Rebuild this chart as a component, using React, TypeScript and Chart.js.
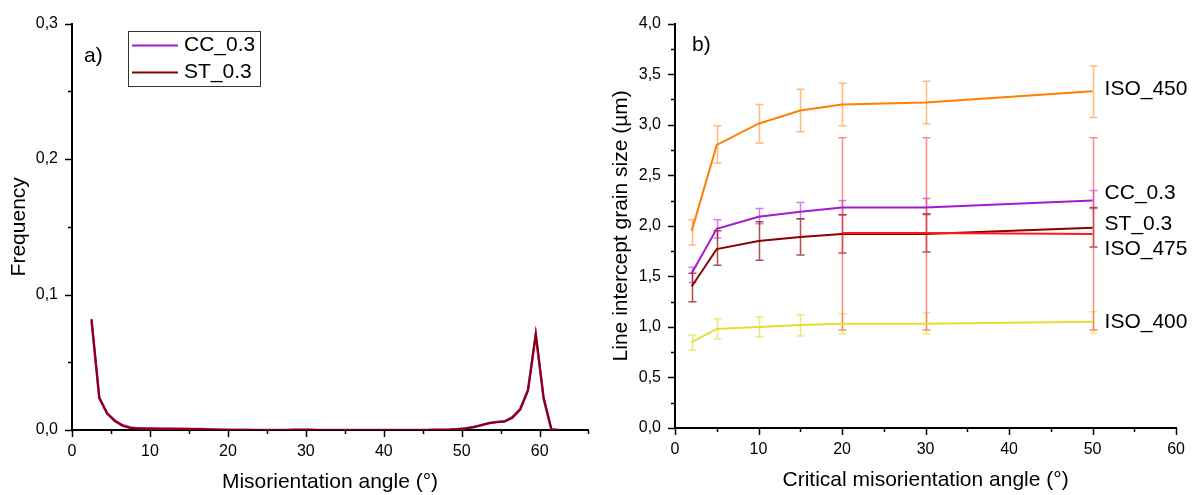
import React, { useEffect, useRef } from 'react';
import { Chart, registerables } from 'chart.js';
Chart.register(...registerables);

const FONT_FAMILY = "'Liberation Sans', Arial, sans-serif";

// ---------------- Panel a) data ----------------
const misorientationAngles = [
  2.5, 3.5, 4.5, 5.5, 6.5, 7.5, 8.5, 9.5, 10.5, 11.5, 12.5, 13.5, 14.5, 15.5, 16.5, 17.5, 18.5, 19.5,
  20.5, 21.5, 22.5, 23.5, 24.5, 25.5, 26.5, 27.5, 28.5, 29.5, 30.5, 31.5, 32.5, 33.5, 34.5, 35.5, 36.5, 37.5,
  38.5, 39.5, 40.5, 41.5, 42.5, 43.5, 44.5, 45.5, 46.5, 47.5,
  48.5, 49.5, 50.5, 51.5, 52.5, 53.5, 54.5, 55.5, 56.5, 57.5, 58.5, 59.5, 60.5, 61.5, 62.5,
];
const freqCC = [
  0.081, 0.0235, 0.0125, 0.007, 0.0035, 0.0018, 0.0012, 0.0011, 0.0011, 0.001, 0.001, 0.0009, 0.0009, 0.0008, 0.0008, 0.0006, 0.0003, 0.0001,
  0.0001, 0.0001, 0.0001, 0.0, 0.0, 0.0, 0.0, 0.0, 0.0001, 0.0002, 0.0001, 0.0, 0.0, 0.0, 0.0, 0.0, 0.0, 0.0,
  0.0, 0.0, 0.0, 0.0, 0.0, 0.0, 0.0, 0.0, 0.0001, 0.0001,
  0.0002, 0.0006, 0.0012, 0.0021, 0.0035, 0.0052, 0.006, 0.0064, 0.0095, 0.0155, 0.0295, 0.0705, 0.0235, 0.0004, 0.0,
];
const freqST = [
  0.082, 0.024, 0.012, 0.0065, 0.003, 0.0015, 0.0011, 0.001, 0.001, 0.0009, 0.0009, 0.0008, 0.0008, 0.0007, 0.0006, 0.0004, 0.0002, 0.0001,
  0.0, 0.0, 0.0, 0.0, 0.0, 0.0, 0.0, 0.0, 0.0001, 0.0002, 0.0001, 0.0, 0.0, 0.0, 0.0, 0.0, 0.0, 0.0,
  0.0, 0.0, 0.0, 0.0, 0.0, 0.0, 0.0, 0.0, 0.0001, 0.0001,
  0.0003, 0.0007, 0.0013, 0.0022, 0.0036, 0.005, 0.0058, 0.0062, 0.009, 0.015, 0.029, 0.071, 0.024, 0.0005, 0.0,
];
const legendLabelsA = ['CC_0.3', 'ST_0.3'];

// ---------------- Panel b) data ----------------
const criticalAngles = [2, 5, 10, 15, 20, 30, 50];

const iso475 = [null, null, null, null, 1.93, 1.93, 1.92];
const iso475Low = [null, null, null, null, 0.97, 0.97, 0.97];
const iso475High = [null, null, null, null, 2.87, 2.87, 2.87];

const iso450 = [1.95, 2.80, 3.01, 3.14, 3.20, 3.22, 3.33];
const iso450Low = [1.81, 2.62, 2.82, 2.93, 2.99, 3.01, 3.07];
const iso450High = [2.06, 2.99, 3.20, 3.35, 3.41, 3.43, 3.58];

const cc03 = [1.53, 1.97, 2.09, 2.14, 2.18, 2.18, 2.25];
const cc03Low = [1.44, 1.88, 2.02, 2.07, 2.11, 2.11, 2.17];
const cc03High = [1.59, 2.06, 2.17, 2.23, 2.25, 2.27, 2.35];

const st03 = [1.40, 1.77, 1.85, 1.89, 1.92, 1.92, 1.98];
const st03Low = [1.25, 1.61, 1.66, 1.71, 1.73, 1.74, 1.79];
const st03High = [1.53, 1.95, 2.04, 2.07, 2.11, 2.12, 2.18];

const iso400 = [0.85, 0.98, 1.00, 1.02, 1.03, 1.03, 1.05];
const iso400Low = [0.77, 0.88, 0.90, 0.91, 0.93, 0.93, 0.94];
const iso400High = [0.92, 1.08, 1.10, 1.12, 1.13, 1.14, 1.15];

const seriesNamesB = ['ISO_475', 'ISO_450', 'CC_0.3', 'ST_0.3', 'ISO_400'];
// vertical anchor (in axis units) of the end-of-line series labels
const seriesLabelAnchor = [1.77, 3.35, 2.325, 2.02, 1.045];

// ---------------- helpers ----------------
const commaFmt = (v: number) => v.toFixed(1).replace('.', ',');
const isMultiple = (v: number, step: number) => Math.abs(v / step - Math.round(v / step)) < 1e-6;

const tickMarksPlugin = {
  id: 'tickMarks',
  afterDraw(chart: any, _args: any, opts: any) {
    const ctx = chart.ctx;
    ctx.save();
    ctx.strokeStyle = '#000';
    ctx.lineWidth = 1.5;
    const xs = chart.scales.x;
    const ys = chart.scales.y;
    xs.ticks.forEach((t: any) => {
      const px = Math.round(xs.getPixelForValue(t.value)) + 0.5;
      const len = isMultiple(t.value, opts.xMajor) ? 7 : 4;
      ctx.beginPath();
      ctx.moveTo(px, xs.top);
      ctx.lineTo(px, xs.top + len);
      ctx.stroke();
    });
    ys.ticks.forEach((t: any) => {
      const py = Math.round(ys.getPixelForValue(t.value)) + 0.5;
      const len = isMultiple(t.value, opts.yMajor) ? 7 : 4;
      ctx.beginPath();
      ctx.moveTo(ys.right, py);
      ctx.lineTo(ys.right - len, py);
      ctx.stroke();
    });
    ctx.restore();
  },
};

const errorBarsPlugin = {
  id: 'errorBars',
  beforeDatasetsDraw(chart: any) {
    const ctx = chart.ctx;
    const xs = chart.scales.x;
    const ys = chart.scales.y;
    ctx.save();
    const n = chart.data.datasets.length;
    for (let d = n - 1; d >= 0; d--) {
      const ds = chart.data.datasets[d];
      if (!ds.errLow) continue;
      ctx.strokeStyle = ds.errColor;
      ctx.lineWidth = 1.5;
      ds.errX.forEach((xv: number, i: number) => {
        const lo = ds.errLow[i];
        const hi = ds.errHigh[i];
        if (lo == null || hi == null) return;
        const px = Math.round(xs.getPixelForValue(xv)) + 0.5;
        const pLo = ys.getPixelForValue(lo);
        const pHi = ys.getPixelForValue(hi);
        ctx.beginPath();
        ctx.moveTo(px, pLo);
        ctx.lineTo(px, pHi);
        ctx.moveTo(px - 4, pLo);
        ctx.lineTo(px + 4, pLo);
        ctx.moveTo(px - 4, pHi);
        ctx.lineTo(px + 4, pHi);
        ctx.stroke();
      });
    }
    ctx.restore();
  },
};

const panelALabels = {
  id: 'panelALabels',
  afterDraw(chart: any) {
    const ctx = chart.ctx;
    ctx.save();
    ctx.font = `21px ${FONT_FAMILY}`;
    ctx.fillStyle = '#000';
    ctx.textBaseline = 'middle';
    ctx.textAlign = 'left';
    ctx.fillText('a)', 84, 56);
    // legend box
    ctx.strokeStyle = '#333';
    ctx.lineWidth = 1;
    ctx.strokeRect(128.5, 31.5, 132, 55);
    const colors = [chart.data.datasets[1].borderColor, chart.data.datasets[0].borderColor];
    legendLabelsA.forEach((lab, i) => {
      const y = 45 + i * 27;
      ctx.strokeStyle = colors[i];
      ctx.lineWidth = 2;
      ctx.beginPath();
      ctx.moveTo(132, y + 0.5);
      ctx.lineTo(178, y + 0.5);
      ctx.stroke();
      ctx.fillText(lab, 184, y);
    });
    ctx.restore();
  },
};

const panelBLabels = {
  id: 'panelBLabels',
  afterDraw(chart: any) {
    const ctx = chart.ctx;
    const xs = chart.scales.x;
    const ys = chart.scales.y;
    ctx.save();
    ctx.font = `21px ${FONT_FAMILY}`;
    ctx.fillStyle = '#000';
    ctx.textBaseline = 'middle';
    ctx.textAlign = 'left';
    ctx.fillText('b)', 92, 45);
    const lastX = criticalAngles[criticalAngles.length - 1];
    seriesNamesB.forEach((name, i) => {
      ctx.fillText(name, xs.getPixelForValue(lastX) + 12, ys.getPixelForValue(seriesLabelAnchor[i]));
    });
    ctx.restore();
  },
};

const toPoints = (xs: number[], ys: (number | null)[]) =>
  xs.map((x, i) => ({ x, y: ys[i] })).filter((p) => p.y != null);

const tickFont = { family: FONT_FAMILY, size: 16 };
const titleFont = { family: FONT_FAMILY, size: 21 };

export default function App() {
  const refA = useRef<HTMLCanvasElement>(null);
  const refB = useRef<HTMLCanvasElement>(null);

  useEffect(() => {
    Chart.defaults.color = '#000';
    const chartA = new Chart(refA.current!, {
      type: 'line',
      data: {
        datasets: [
          {
            label: 'ST_0.3',
            data: toPoints(misorientationAngles, freqST),
            borderColor: '#8b0000',
            borderWidth: 2,
            pointRadius: 0,
            tension: 0,
          },
          {
            label: 'CC_0.3',
            data: toPoints(misorientationAngles, freqCC),
            borderColor: '#a31ad0',
            borderWidth: 2.5,
            pointRadius: 0,
            tension: 0,
          },
        ],
      },
      options: {
        responsive: false,
        animation: false,
        layout: { padding: { left: 0, top: 21, right: 9, bottom: 0 } },
        plugins: {
          legend: { display: false },
          tooltip: { enabled: false },
          tickMarks: { xMajor: 10, yMajor: 0.1 },
        } as any,
        scales: {
          x: {
            type: 'linear',
            min: 0,
            max: 66.2,
            grid: { display: false, drawTicks: false },
            border: { display: true, color: '#000', width: 2 },
            ticks: {
              stepSize: 5,
              autoSkip: false,
              maxRotation: 0,
              padding: 12,
              font: tickFont,
              callback: (v: any) => (isMultiple(v, 10) && v <= 60 ? String(v) : ''),
            },
            title: { display: true, text: 'Misorientation angle (°)', font: titleFont, padding: { top: 0, bottom: 0 } },
            afterFit: (s: any) => { s.height = 65; },
          },
          y: {
            min: 0,
            max: 0.3,
            grid: { display: false, drawTicks: false },
            border: { display: true, color: '#000', width: 2 },
            ticks: {
              stepSize: 0.05,
              autoSkip: false,
              padding: 14,
              font: tickFont,
              callback: (v: any) => (isMultiple(v, 0.1) ? commaFmt(v) : ''),
            },
            title: { display: true, text: 'Frequency', font: titleFont, padding: { top: 7, bottom: 0 } },
            afterFit: (s: any) => { s.width = 72; },
          },
        },
      } as any,
      plugins: [tickMarksPlugin, panelALabels],
    });

    const mk = (label: string, vals: (number | null)[], lo: (number | null)[], hi: (number | null)[], color: string, errColor: string) => ({
      label,
      data: toPoints(criticalAngles, vals),
      borderColor: color,
      borderWidth: 2,
      pointRadius: 0,
      tension: 0,
      errX: criticalAngles,
      errLow: lo,
      errHigh: hi,
      errColor,
    });

    const chartB = new Chart(refB.current!, {
      type: 'line',
      data: {
        datasets: [
          mk('ISO_475', iso475, iso475Low, iso475High, '#ff1a1a', 'rgba(255,60,60,0.6)'),
          mk('ST_0.3', st03, st03Low, st03High, '#8b0000', 'rgba(150,20,20,0.75)'),
          mk('CC_0.3', cc03, cc03Low, cc03High, '#a31ad0', 'rgba(170,50,220,0.6)'),
          mk('ISO_450', iso450, iso450Low, iso450High, '#ff8000', 'rgba(255,150,50,0.65)'),
          mk('ISO_400', iso400, iso400Low, iso400High, '#e6dc30', 'rgba(235,220,60,0.7)'),
        ] as any,
      },
      options: {
        responsive: false,
        animation: false,
        layout: { padding: { left: 0, top: 22, right: 18, bottom: 0 } },
        plugins: {
          legend: { display: false },
          tooltip: { enabled: false },
          tickMarks: { xMajor: 10, yMajor: 0.5 },
        } as any,
        scales: {
          x: {
            type: 'linear',
            min: 0,
            max: 60,
            grid: { display: false, drawTicks: false },
            border: { display: true, color: '#000', width: 2 },
            ticks: {
              stepSize: 5,
              autoSkip: false,
              maxRotation: 0,
              padding: 12,
              font: tickFont,
              callback: (v: any) => (isMultiple(v, 10) ? String(v) : ''),
            },
            title: { display: true, text: 'Critical misorientation angle (°)', font: titleFont, padding: { top: 0, bottom: 2 } },
            afterFit: (s: any) => { s.height = 67; },
          },
          y: {
            min: 0,
            max: 4,
            grid: { display: false, drawTicks: false },
            border: { display: true, color: '#000', width: 2 },
            ticks: {
              stepSize: 0.25,
              autoSkip: false,
              padding: 14,
              font: tickFont,
              callback: (v: any) => (isMultiple(v, 0.5) ? commaFmt(v) : ''),
            },
            title: { display: true, text: 'Line intercept grain size (µm)', font: titleFont, padding: { top: 9, bottom: 0 } },
            afterFit: (s: any) => { s.width = 75; },
          },
        },
      } as any,
      plugins: [tickMarksPlugin, errorBarsPlugin, panelBLabels],
    });

    return () => {
      chartA.destroy();
      chartB.destroy();
    };
  }, []);

  return (
    <div style={{ position: 'absolute', left: 0, top: 0, width: 1197, height: 495, background: '#fff' }}>
      <canvas ref={refA} width={600} height={495} style={{ position: 'absolute', left: 0, top: 0, width: 600, height: 495 }} />
      <canvas ref={refB} width={597} height={495} style={{ position: 'absolute', left: 600, top: 0, width: 597, height: 495 }} />
    </div>
  );
}
